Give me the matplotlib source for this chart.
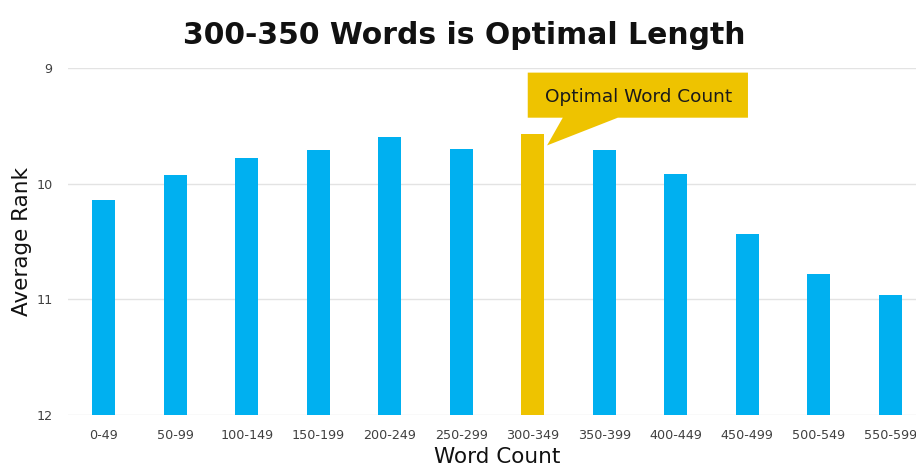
import numpy as np
import matplotlib
matplotlib.use("Agg")
import matplotlib.pyplot as plt
from matplotlib.patches import Polygon

# Data (lower rank = better, axis is inverted)
categories = ['0-49', '50-99', '100-149', '150-199', '200-249', '250-299',
              '300-349', '350-399', '400-449', '450-499', '500-549', '550-599']
avg_rank = [10.14, 9.93, 9.78, 9.71, 9.60, 9.70, 9.57, 9.71, 9.92, 10.44, 10.78, 10.96]
optimal = '300-349'
yticks = [9, 10, 11, 12]

blue = '#00B0F0'
gold = '#EEC300'

fig = plt.figure(figsize=(9.16, 4.71), dpi=100)
ax = fig.add_axes([68 / 916, 1 - 414.7 / 471, 858 / 916, (414.7 - 68) / 471])

x = np.arange(len(categories))
vals = np.array(avg_rank)
colors = [gold if c == optimal else blue for c in categories]
ax.bar(x, 12 - vals, bottom=vals, width=0.315, color=colors, zorder=3)

ax.set_ylim(12, 9)
ax.set_xlim(-0.5, len(categories) - 0.5)
ax.set_yticks(yticks)
ax.set_xticks(x)
ax.set_xticklabels(categories)
ax.tick_params(length=0, labelsize=9.2, colors='#404040')
ax.tick_params(axis='y', pad=11)
ax.tick_params(axis='x', pad=10)
ax.grid(axis='y', color='#E3E3E3', lw=1, zorder=0)
for s in ax.spines.values():
    s.set_visible(False)

ax.set_xlabel('Word Count', fontsize=15.5, color='#111111', labelpad=4)
ax.set_ylabel('Average Rank', fontsize=15.5, color='#111111', labelpad=3)

fig.text(0.507, 0.925, '300-350 Words is Optimal Length', ha='center', va='center',
         fontsize=21.5, fontweight='bold', color='#111111')

# Callout for the optimal bar
i = categories.index(optimal)
v = avg_rank[i]
callout = Polygon([(i - 0.07, 9.04), (i + 3.01, 9.04), (i + 3.01, 9.43),
                   (i + 1.19, 9.43), (i + 0.2, v + 0.1), (i + 0.42, 9.43),
                   (i - 0.07, 9.43)],
                  closed=True, facecolor=gold, edgecolor='none', zorder=4, clip_on=False)
ax.add_patch(callout)
ax.text(i + 1.48, 9.25, 'Optimal Word Count', ha='center', va='center',
        fontsize=13.3, color='#1a1a1a', zorder=5)

fig.savefig('out.png', dpi=100)
